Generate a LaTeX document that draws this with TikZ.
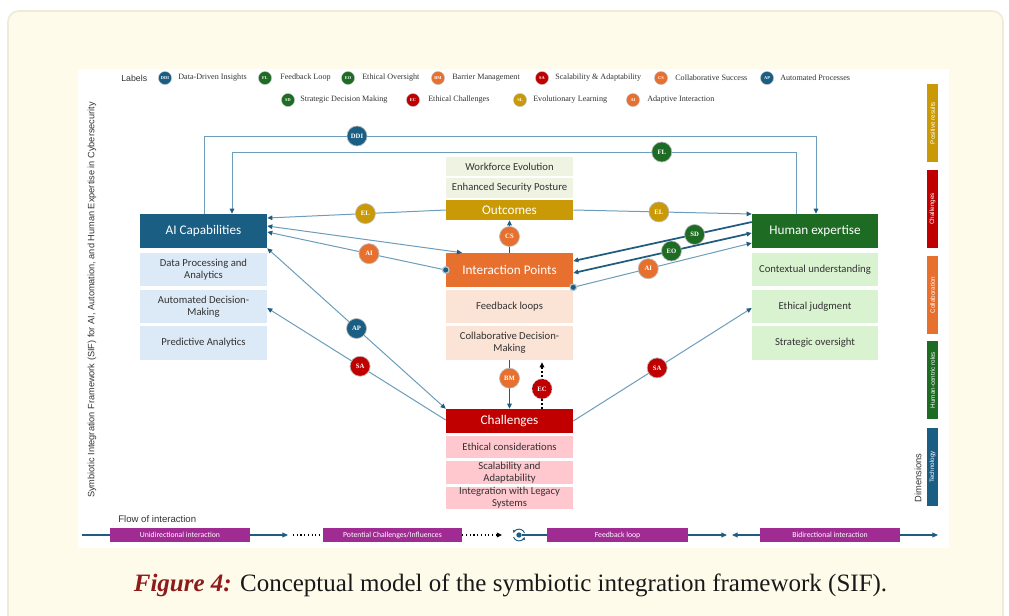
\documentclass[tikz,border=0pt]{standalone}
\usepackage{fontspec}
\setmainfont{Liberation Serif}
\newfontfamily\boxfont{Carlito}
\newfontfamily\arialfont{Liberation Sans}
\usetikzlibrary{arrows.meta,calc}
\definecolor{cblue}{HTML}{1B5E84}
\definecolor{cgreen}{HTML}{1E6B24}
\definecolor{corange}{HTML}{E8702F}
\definecolor{cred}{HTML}{C00000}
\definecolor{cgold}{HTML}{C99A06}
\definecolor{lblue}{HTML}{DCEAF7}
\definecolor{lgreen}{HTML}{D9F2D0}
\definecolor{lpeach}{HTML}{FBE3D6}
\definecolor{lpink}{HTML}{FFC7CE}
\definecolor{lcream}{HTML}{EFF3E1}
\definecolor{cpurple}{HTML}{A02B93}
\definecolor{linec}{HTML}{6C9DBA}
\definecolor{darkline}{HTML}{1F5C7F}
\definecolor{pagebg}{HTML}{FFFBEA}
\definecolor{pageborder}{HTML}{EEEBD9}
\definecolor{capred}{HTML}{8E1B1B}
\definecolor{txt}{HTML}{333333}
\begin{document}
\begin{tikzpicture}[x=0.75pt,y=-0.75pt,
  sz/.style 2 args={minimum width=#1*0.75pt, minimum height=#2*0.75pt},
  box/.style={inner sep=0pt, align=center},
  hdr/.style={box, text=white, font=\boxfont\fontsize{9.9}{11}\selectfont},
  sub/.style={box, text=txt, font=\boxfont\fontsize{8}{8.8}\selectfont},
  tag/.style={circle, draw=gray!55, line width=0.5pt, minimum size=15pt, inner sep=0pt, text=white, font=\bfseries\fontsize{5}{5}\selectfont},
  ltag/.style={tag, minimum size=9.75pt, line width=0.3pt, font=\bfseries\fontsize{3.3}{3.3}\selectfont},
  ltext/.style={anchor=west, inner sep=0pt, text=txt, font=\fontsize{6.1}{7}\selectfont},
  tipb/.style={-{Triangle[length=3.8pt,width=3.4pt,color=darkline]}},
  conn/.style={draw=linec, line width=0.75pt, tipb},
  connb/.style={draw=linec, line width=0.75pt, {Triangle[length=3.8pt,width=3.4pt,color=darkline]}-{Triangle[length=3.8pt,width=3.4pt,color=darkline]}},
  connthick/.style={draw=darkline, line width=1.3pt, tipb},
  connthickb/.style={draw=darkline, line width=1.3pt, {Triangle[length=3.8pt,width=3.4pt,color=darkline]}-{Triangle[length=3.8pt,width=3.4pt,color=darkline]}},
  dotm/.style={circle, fill=darkline, draw=linec!55, line width=0.9pt, minimum size=5pt, inner sep=0pt},
  dimbar/.style={rotate=90, minimum width=58.5pt, minimum height=8.25pt, inner sep=0pt, text=white, font=\arialfont\fontsize{4.7}{5}\selectfont},
  flowbox/.style={box, fill=cpurple, text=white, font=\boxfont\fontsize{5.8}{6}\selectfont},
  bline/.style={draw=darkline, line width=0.9pt},
  btip/.style={-{Triangle[length=4.2pt,width=3.6pt,color=darkline]}}
]
\useasboundingbox (0,0) rectangle (1009,615);
% page frame
\draw[pageborder, fill=pagebg, line width=1.2pt, rounded corners=8pt] (8,11) rectangle (1003,640);
\fill[white] (78,69) rectangle (949,548);

% legend
\node[anchor=west, inner sep=0pt, text=txt, font=\arialfont\fontsize{6.6}{8}\selectfont] (lbl) at (121,78) {Labels};
\node[ltag, fill=cblue] (l1) at (165,78) {DDI};   \node[ltext] (lt1) at (178,78) {Data-Driven Insights};
\node[ltag, fill=cgreen] (l2) at (265,78) {FL};   \node[ltext] (lt2) at (280,78) {Feedback Loop};
\node[ltag, fill=cgreen] (l3) at (348,78) {EO};   \node[ltext] (lt3) at (362,78) {Ethical Oversight};
\node[ltag, fill=corange] (l4) at (438,78) {BM};  \node[ltext] (lt4) at (452,78) {Barrier Management};
\node[ltag, fill=cred] (l5) at (542,78) {SA};     \node[ltext] (lt5) at (555,78) {Scalability \& Adaptability};
\node[ltag, fill=corange] (l6) at (661,78) {CS};  \node[ltext] (lt6) at (675,78) {Collaborative Success};
\node[ltag, fill=cblue] (l7) at (767,78) {AP};    \node[ltext] (lt7) at (780,78) {Automated Processes};
\node[ltag, fill=cgreen] (l8) at (288,100) {SD};  \node[ltext] (lt8) at (300,100) {Strategic Decision Making};
\node[ltag, fill=cred] (l9) at (413,100) {EC};    \node[ltext] (lt9) at (428,100) {Ethical Challenges};
\node[ltag, fill=cgold] (l10) at (520,100) {SL};  \node[ltext] (lt10) at (533,100) {Evolutionary Learning};
\node[ltag, fill=corange] (l11) at (633,100) {AI};\node[ltext] (lt11) at (647,100) {Adaptive Interaction};

% vertical title
\node[rotate=90, inner sep=0pt, text=txt, font=\arialfont\fontsize{6.9}{8}\selectfont] (title) at (92,300) {Symbiotic Integration Framework (SIF) for AI, Automation, and Human Expertise in Cybersecurity};

% AI capabilities column
\node[hdr, fill=cblue, sz={127}{34}] (aic) at (203.5,231) {AI Capabilities};
\node[sub, fill=lblue, sz={127}{33}] (aic1) at (203.5,269.5) {Data Processing and\\Analytics};
\node[sub, fill=lblue, sz={127}{33}] (aic2) at (203.5,306.5) {Automated Decision-\\Making};
\node[sub, fill=lblue, sz={127}{34}] (aic3) at (203.5,343) {Predictive Analytics};

% centre column
\node[sub, fill=lcream, sz={127}{19}] (oc1) at (509.5,166.5) {Workforce Evolution};
\node[sub, fill=lcream, sz={127}{20}] (oc2) at (509.5,188) {Enhanced Security Posture};
\node[hdr, fill=cgold, sz={127}{20}] (oc) at (509.5,210) {Outcomes};
\node[hdr, fill=corange, sz={127}{34}] (ip) at (509.5,270) {Interaction Points};
\node[sub, fill=lpeach, sz={127}{33}] (ip1) at (509.5,306.5) {Feedback loops};
\node[sub, fill=lpeach, sz={127}{34}] (ip2) at (509.5,343) {Collaborative Decision-\\Making};
\node[hdr, fill=cred, sz={127}{24}] (ch) at (509.5,421) {Challenges};
\node[sub, fill=lpink, sz={127}{22}] (ch1) at (509.5,447) {Ethical considerations};
\node[sub, fill=lpink, sz={127}{23}] (ch2) at (509.5,472.5) {Scalability and\\Adaptability};
\node[sub, fill=lpink, sz={127}{22}] (ch3) at (509.5,498) {Integration with Legacy\\Systems};

% human expertise column
\node[hdr, fill=cgreen, sz={126}{34}] (he) at (815,231) {Human expertise};
\node[sub, fill=lgreen, sz={126}{33}] (he1) at (815,269.5) {Contextual understanding};
\node[sub, fill=lgreen, sz={126}{33}] (he2) at (815,306.5) {Ethical judgment};
\node[sub, fill=lgreen, sz={126}{34}] (he3) at (815,343) {Strategic oversight};

% connectors
\draw[conn] (aic.north -| 204,0) -- (204,136) -- node[tag, fill=cblue, pos=0.25] (tDDI) {DDI} (816,136) -- (he.north -| 816,0);
\draw[conn] (he.north -| 796,0) -- (796,152) -- node[tag, fill=cgreen, pos=0.238] (tFL) {FL} (232,152) -- (aic.north -| 232,0);
\draw[conn] (oc.west |- 0,210) -- node[tag, fill=cgold, pos=0.45] (tEL1) {EL} (aic.east |- 0,218);
\draw[conn] (oc.east |- 0,210) -- node[tag, fill=cgold, pos=0.48] (tEL2) {EL} (he.west |- 0,214);
\draw[connb] (aic.east |- 0,226) -- (ip.north -| 462,0);
\coordinate (pL) at (ip.west |- 0,270);
\draw[conn] (pL) -- node[tag, fill=corange, pos=0.43] (tAI1) {AI} (aic.east |- 0,232);
\node[dotm] (dL) at (pL) {};
\draw[connthick] (he.west |- 0,222) -- node[tag, fill=cgreen, pos=0.32] (tSD) {SD} (ip.east |- 0,261);
\draw[connthickb] (he.west |- 0,233) -- node[tag, fill=cgreen, pos=0.45] (tEO) {EO} (ip.east |- 0,273);
\coordinate (pR) at (ip.south east);
\draw[conn] (pR) -- node[tag, fill=corange, pos=0.42] (tAI2) {AI} (he.west |- 0,243);
\node[dotm] (dR) at (pR) {};
\draw[connb] (aic.south east) -- node[tag, fill=cblue, pos=0.5] (tAP) {AP} (ch.north west);
\draw[conn] (ch.west |- 0,420) -- node[tag, fill=cred, pos=0.48] (tSA1) {SA} (aic2.east |- 0,308);
\draw[conn] (ch.east |- 0,421) -- node[tag, fill=cred, pos=0.47] (tSA2) {SA} (he2.west |- 0,308);
\draw[connthick, line width=1pt] (ip.north) -- node[tag, fill=corange] (tCS) {CS} (oc.south);
\draw[connthick, line width=1.1pt] (ip2.south) -- node[tag, fill=corange, pos=0.37] (tBM) {BM} (ch.north);
\draw[black, dotted, line width=1pt, shorten >=1.5pt, -{Triangle[length=3.8pt,width=3.4pt]}] (ch.north -| 542,0) -- node[tag, fill=cred, pos=0.41] (tEC) {EC} (ip2.south -| 542,0);

% dimensions bar
\node[dimbar, fill=cgold] (d1) at (932.5,123) {Positive results};
\node[dimbar, fill=cred] (d2) at (932.5,209) {Challenges};
\node[dimbar, fill=corange] (d3) at (932.5,295) {Collaboration};
\node[dimbar, fill=cgreen] (d4) at (932.5,380) {Human-centric roles};
\node[dimbar, fill=cblue] (d5) at (932.5,467) {Technology};
\node[rotate=90, inner sep=0pt, text=txt, font=\arialfont\fontsize{7}{8}\selectfont] (dimt) at (918,478) {Dimensions};

% flow legend
\node[anchor=west, inner sep=0pt, text=txt, font=\arialfont\fontsize{7.2}{8}\selectfont] (flowt) at (118,519) {Flow of interaction};
\node[flowbox, sz={140}{14}] (fb1) at (180,535) {Unidirectional interaction};
\node[flowbox, sz={139}{14}] (fb2) at (392.5,535) {Potential Challenges/Influences};
\node[flowbox, sz={141}{14}] (fb3) at (617.5,535) {Feedback loop};
\node[flowbox, sz={140}{14}] (fb4) at (830,535) {Bidirectional interaction};
\coordinate (b0) at (82,535);
\coordinate (b1) at (288,535);
\coordinate (b2) at (293,535);
\coordinate (b3) at (502,535);
\coordinate (b4) at (727,535);
\coordinate (b5) at (732,535);
\coordinate (b6) at (938,535);
\draw[bline] (b0) -- (fb1.west);
\draw[bline, btip] (fb1.east) -- (b1);
\draw[black, dotted, line width=0.8pt] (b2) -- (fb2.west);
\draw[black, dotted, line width=0.8pt, -{Triangle[length=3.8pt,width=3.4pt]}] (fb2.east) -- (b3);
\node[circle, fill=darkline, minimum size=4pt, inner sep=0pt] (fbi) at (519,535) {};
\draw[darkline, line width=0.7pt, -{Triangle[length=2pt,width=2pt]}] ($(fbi)+(5.5,-2)$) arc[start angle=20, end angle=160, radius=4.4pt];
\draw[darkline, line width=0.7pt, -{Triangle[length=2pt,width=2pt]}] ($(fbi)+(-5.5,2)$) arc[start angle=200, end angle=340, radius=4.4pt];
\draw[bline] (fbi) -- (fb3.west);
\draw[bline, btip] (fb3.east) -- (b4);
\draw[bline, btip] (fb4.west) -- (b5);
\draw[bline, btip] (fb4.east) -- (b6);

% caption
\node[inner sep=0pt, text=black!90, font=\fontsize{18.75}{21}\selectfont] (cap) at (510.5,585) {\textcolor{capred}{\textbf{\textit{Figure 4:}}} Conceptual model of the symbiotic integration framework (SIF).};
\end{tikzpicture}
\end{document}
